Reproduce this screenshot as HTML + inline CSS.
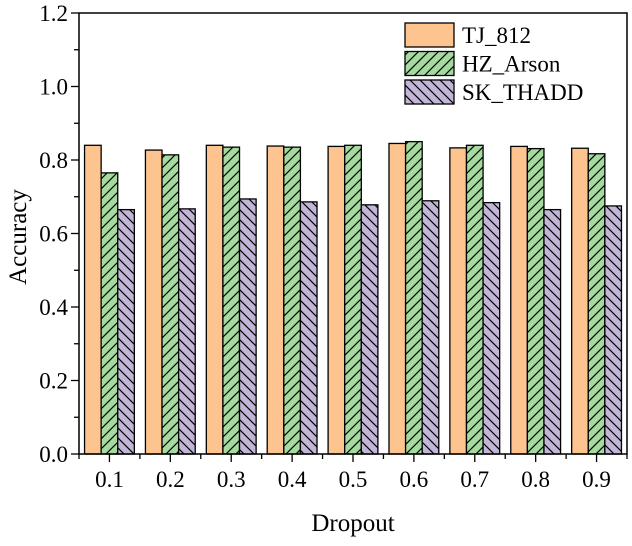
<!DOCTYPE html>
<html><head><meta charset="utf-8"><style>
html,body{margin:0;padding:0;background:#fff;}
svg text{font-family:"Liberation Serif",serif;fill:#000;}
</style></head><body>
<svg id="chart" width="632" height="541" viewBox="0 0 632 541" xmlns="http://www.w3.org/2000/svg">
<defs>
<pattern id="hatchF" patternUnits="userSpaceOnUse" width="10" height="10">
<rect width="10" height="10" fill="#a6dba0"/>
<path d="M-2,2 L2,-2 M0,10 L10,0 M8,12 L12,8" stroke="#000" stroke-width="1.2"/>
</pattern>
<pattern id="hatchB" patternUnits="userSpaceOnUse" width="10" height="10">
<rect width="10" height="10" fill="#c2b5d8"/>
<path d="M-2,8 L2,12 M0,0 L10,10 M8,-2 L12,2" stroke="#000" stroke-width="1.2"/>
</pattern>
</defs>
<g id="plot"></g>
</svg>
<script>
const categories = ["0.1","0.2","0.3","0.4","0.5","0.6","0.7","0.8","0.9"];
const tj812 = [0.840,0.827,0.840,0.838,0.837,0.845,0.833,0.837,0.832];
const hzArson = [0.765,0.814,0.835,0.835,0.840,0.850,0.840,0.831,0.817];
const skThadd = [0.665,0.667,0.694,0.686,0.678,0.689,0.684,0.665,0.675];
const yTicks = ["0.0","0.2","0.4","0.6","0.8","1.0","1.2"];
const seriesNames = ["TJ_812","HZ_Arson","SK_THADD"];

const NS="http://www.w3.org/2000/svg";
const L=79,R=627,T=13,B=454,yMax=1.2;
const step=(R-L)/categories.length, bw=16.6;
const x=i=>L+(i+0.5)*step;
const y=v=>B-(v/yMax)*(B-T);
const g=document.getElementById('plot');
function mk(tag,attrs){const e=document.createElementNS(NS,tag);for(const k in attrs)e.setAttribute(k,attrs[k]);g.appendChild(e);return e;}
const fills=["#fdc48f","url(#hatchF)","url(#hatchB)"];
const series=[tj812,hzArson,skThadd];
const sNames=["tj812","hz-arson","sk-thadd"];
series.forEach((arr,s)=>{
  arr.forEach((v,i)=>{
    const r=mk('rect',{x:x(i)+(s-1.5)*bw,y:y(v),width:bw,height:B-y(v),fill:fills[s],stroke:"#000","stroke-width":1.3});
    
    
  });
});
const fr=mk('rect',{x:L,y:T,width:R-L,height:B-T,fill:"none",stroke:"#000","stroke-width":1.5});


yTicks.forEach((t,i)=>{
  const v=parseFloat(t), yy=y(v);
  mk('line',{x1:L-8,x2:L,y1:yy,y2:yy,stroke:"#000","stroke-width":1.3});
  if(i<yTicks.length-1){const ym=y(v+0.1);mk('line',{x1:L-5,x2:L,y1:ym,y2:ym,stroke:"#000","stroke-width":1.3});}
  const tx=mk('text',{x:L-11,y:yy+8,"text-anchor":"end","font-size":23});
  tx.textContent=t;
  
  
});
categories.forEach((c,i)=>{
  mk('line',{x1:x(i),x2:x(i),y1:B,y2:B+8,stroke:"#000","stroke-width":1.3});
  mk('line',{x1:L+(i+1)*step,x2:L+(i+1)*step,y1:B,y2:B+5,stroke:"#000","stroke-width":1.3});
  const tx=mk('text',{x:x(i),y:B+33,"text-anchor":"middle","font-size":23});
  tx.textContent=c;
  
  
});
mk('line',{x1:L,x2:L,y1:B,y2:B+5,stroke:"#000","stroke-width":1.3});
const yt=mk('text',{x:0,y:0,"text-anchor":"middle","font-size":25,transform:"translate(26,237) rotate(-90)"});
yt.textContent="Accuracy";


const xt=mk('text',{x:353,y:531,"text-anchor":"middle","font-size":25});
xt.textContent="Dropout";


seriesNames.forEach((n,s)=>{
  const yy=23+s*28.5;
  const sw=mk('rect',{x:405,y:yy,width:49,height:24,fill:fills[s],stroke:"#000","stroke-width":1.3});
  
  
  const tx=mk('text',{x:462,y:yy+20,"font-size":23});
  tx.textContent=n;
  
  
});
</script>
</body></html>
